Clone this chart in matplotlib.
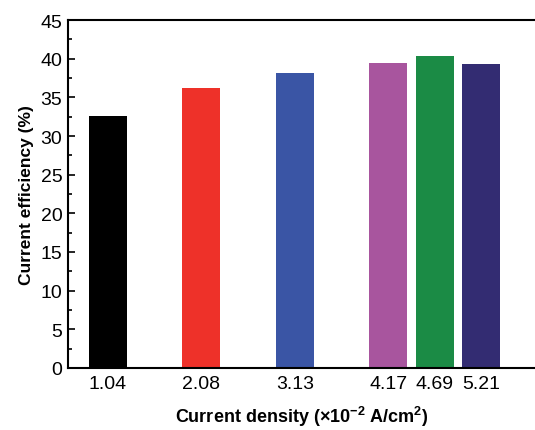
import matplotlib
matplotlib.use('Agg')
import matplotlib.pyplot as plt

# current density (x10^-2 A/cm2) and current efficiency (%)
density = [1.04, 2.08, 3.13, 4.17, 4.69, 5.21]
efficiency = [32.6, 36.2, 38.1, 39.5, 40.3, 39.3]
bar_colors = ['#000000', '#EE3129', '#3A55A5', '#A8559E', '#1B8B45', '#332C72']
tick_labels = ['1.04', '2.08', '3.13', '4.17', '4.69', '5.21']

plt.rcParams['font.family'] = ['Liberation Sans', 'DejaVu Sans']
plt.rcParams['mathtext.fontset'] = 'custom'
plt.rcParams['mathtext.rm'] = 'Liberation Sans:bold'
plt.rcParams['mathtext.bf'] = 'Liberation Sans:bold'
plt.rcParams['mathtext.default'] = 'bf'

fig = plt.figure(figsize=(5.35, 4.31), dpi=100)
ax = fig.add_axes([0.127, 0.144, 0.873, 0.807])

ax.bar(density, efficiency, width=0.425, color=bar_colors)

ax.set_xlim(0.595, 5.81)
ax.set_ylim(0, 45)
ax.set_xticks(density)
ax.set_xticklabels(tick_labels)
ax.set_yticks(range(0, 46, 5))
ax.set_yticks([2.5 + 5 * i for i in range(9)], minor=True)

ax.tick_params(axis='x', length=0, pad=5, labelsize=14)
ax.tick_params(axis='y', which='major', direction='in', length=5, width=1.2, pad=4, labelsize=14)
ax.tick_params(axis='y', which='minor', direction='in', length=3, width=1.2)

for s in ['left', 'bottom', 'top']:
    ax.spines[s].set_linewidth(1.5)
ax.spines['right'].set_visible(False)

ax.set_xlabel('Current density (×10$^{-2}$ A/cm$^{2}$)', fontsize=13, fontweight='bold', labelpad=9)
ax.set_ylabel('Current efficiency (%)', fontsize=12.5, fontweight='bold', labelpad=5)

fig.savefig('out.png', dpi=100)
